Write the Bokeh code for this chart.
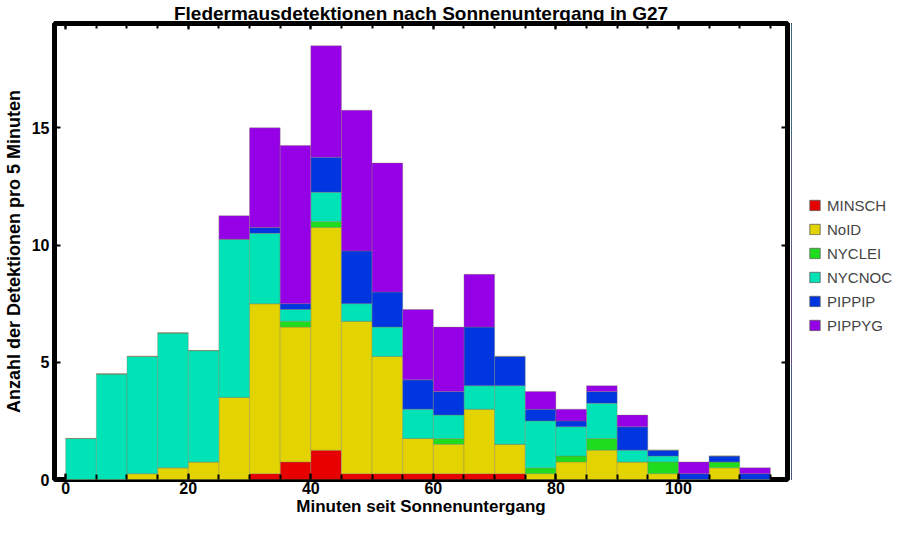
import numpy as np
from bokeh.plotting import figure
from bokeh.layouts import row
from bokeh.models import (ColumnDataSource, LinearAxis, SingleIntervalTicker, Range1d,
                          CustomJSTickFormatter)
from bokeh.embed import file_html
from bokeh.resources import INLINE

# 5-minute bins after sunset (left edges)
bin_start = [0, 5, 10, 15, 20, 25, 30, 35, 40, 45, 50, 55, 60, 65, 70, 75, 80, 85, 90, 95, 100, 105, 110]

# detections per 5 minutes, per species (stacked segment heights)
minsch = [0, 0, 0, 0, 0, 0, 0.25, 0.75, 1.25, 0.25, 0.25, 0.25, 0.25, 0.25, 0.25, 0, 0, 0, 0, 0, 0, 0, 0]
noid   = [0, 0, 0.25, 0.5, 0.75, 3.5, 7.25, 5.75, 9.5, 6.5, 5.0, 1.5, 1.25, 2.75, 1.25, 0.25, 0.75, 1.25, 0.75, 0.25, 0, 0.5, 0]
nyclei = [0, 0, 0, 0, 0, 0, 0, 0.25, 0.25, 0, 0, 0, 0.25, 0, 0, 0.25, 0.25, 0.5, 0, 0.5, 0, 0.25, 0]
nycnoc = [1.75, 4.5, 5.0, 5.75, 4.75, 6.75, 3.0, 0.5, 1.25, 0.75, 1.25, 1.25, 1.0, 1.0, 2.5, 2.0, 1.25, 1.5, 0.5, 0.25, 0, 0, 0]
pippip = [0, 0, 0, 0, 0, 0, 0.25, 0.25, 1.5, 2.25, 1.5, 1.25, 1.0, 2.5, 1.25, 0.5, 0.25, 0.5, 1.0, 0.25, 0.25, 0.25, 0.25]
pippyg = [0, 0, 0, 0, 0, 1.0, 4.25, 6.75, 4.75, 6.0, 5.5, 3.0, 2.75, 2.25, 0, 0.75, 0.5, 0.25, 0.5, 0, 0.5, 0, 0.25]

species = ["MINSCH", "NoID", "NYCLEI", "NYCNOC", "PIPPIP", "PIPPYG"]
colors = ["#e60000", "#e3d300", "#1fdc1f", "#00e3b6", "#0036e0", "#9500e6"]

bin_w = 5
data = dict(x=[b + bin_w / 2 for b in bin_start], MINSCH=minsch, NoID=noid, NYCLEI=nyclei,
            NYCNOC=nycnoc, PIPPIP=pippip, PIPPYG=pippyg)
source = ColumnDataSource(data)

FONT = "Liberation Sans"
H = 519

p = figure(width=791, height=H, output_backend="svg", toolbar_location=None,
           title="Fledermausdetektionen nach Sonnenuntergang in G27",
           x_range=Range1d(-1.83, 117.8), y_range=Range1d(0, 19.45),
           min_border_left=49, min_border_right=4, min_border_top=0, min_border_bottom=40)
p.title.align = "center"
p.title.text_font = FONT
p.title.text_font_style = "bold"
p.title.text_font_size = "19px"
p.title.text_color = "black"
p.title.standoff = 0
p.xgrid.visible = False
p.ygrid.visible = False
p.outline_line_color = "black"
p.outline_line_width = 5
p.background_fill_color = "white"

p.vbar_stack(species, x="x", width=bin_w, color=colors, line_color="#808060", line_width=0.6,
             line_alpha=0.6, source=source)

xt = SingleIntervalTicker(interval=20, num_minor_ticks=4)
yt = SingleIntervalTicker(interval=5, num_minor_ticks=0)

for ax in p.xaxis:
    ax.ticker = xt
    ax.axis_label = "Minuten seit Sonnenuntergang"
    ax.major_label_standoff = 2
    ax.axis_label_standoff = 0
    ax.axis_label_text_font_size = "17px"
for ax in p.yaxis:
    ax.ticker = yt
    ax.axis_label = "Anzahl der Detektionen pro 5 Minuten"
    ax.major_label_standoff = 5
    ax.axis_label_standoff = 5
    ax.axis_label_text_font_size = "18px"

for ax in p.xaxis + p.yaxis:
    ax.axis_line_color = None
    ax.major_tick_in = 6
    ax.major_tick_out = 0
    ax.minor_tick_in = 5
    ax.minor_tick_out = 0
    ax.major_tick_line_width = 2
    ax.minor_tick_line_width = 2
    ax.major_label_text_font = FONT
    ax.major_label_text_font_style = "bold"
    ax.major_label_text_font_size = "16px"
    ax.major_label_text_color = "black"
    ax.axis_label_text_font = FONT
    ax.axis_label_text_font_style = "bold"
    ax.axis_label_text_color = "black"

# mirrored ticks on top and right, no labels
blank = CustomJSTickFormatter(code="return ''")
for side, tk in [("above", xt), ("right", yt)]:
    ax = LinearAxis(ticker=tk, formatter=blank, axis_line_color=None, major_tick_in=6, major_tick_out=0,
                    minor_tick_in=5, minor_tick_out=0, major_tick_line_width=2, minor_tick_line_width=2,
                    major_label_standoff=0, major_label_text_font_size="1px")
    p.add_layout(ax, side)

# legend lives in a narrow figure to the right of the plot frame
pl = figure(width=112, height=H, output_backend="svg", toolbar_location=None,
            x_axis_type=None, y_axis_type=None, x_range=Range1d(1000, 1001), y_range=Range1d(0, 1),
            min_border=0, outline_line_color=None)
pl.xgrid.visible = False
pl.ygrid.visible = False
pl.vbar_stack(species, x="x", width=bin_w, color=colors, line_color="#606060", line_width=0.8,
              source=source, legend_label=species)
lg = pl.legend[0]
lg.location = "center_left"
lg.margin = 17
lg.border_line_color = None
lg.background_fill_alpha = 0
lg.label_text_font = FONT
lg.label_text_font_size = "15px"
lg.glyph_width = 13
lg.glyph_height = 13
lg.label_height = 21
lg.spacing = 3
lg.label_standoff = 6
lg.padding = 11
# blank title pushes the entries down a little
lg.title = " "
lg.title_text_font_size = "14px"
lg.title_standoff = 12

layout = row(p, pl)
open("out.html", "w").write(file_html(layout, INLINE))
